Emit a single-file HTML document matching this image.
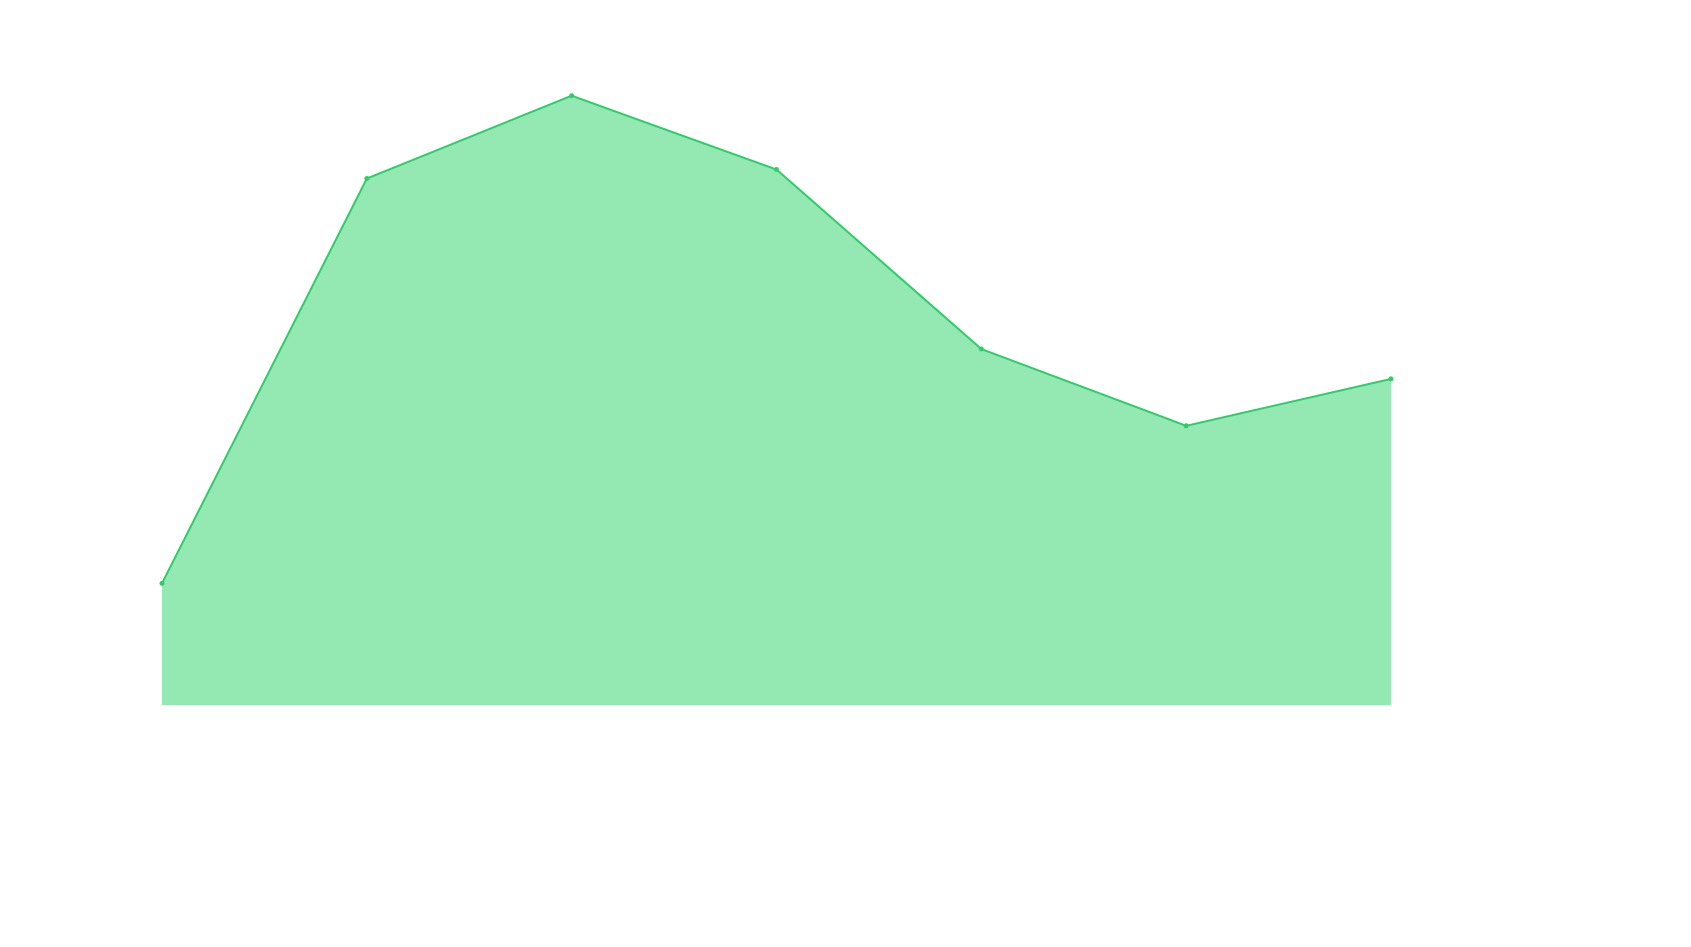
<!DOCTYPE html>
<html><head><meta charset="utf-8"><style>
html,body{margin:0;padding:0;background:#fff;width:1691px;height:947px;overflow:hidden;font-family:"Liberation Sans",sans-serif;}
</style></head><body>
<svg id="chart" width="1691" height="947" xmlns="http://www.w3.org/2000/svg"></svg>
<script>
const categories = ["1","2","3","4","5","6","7"];
const values = [122, 528, 611, 537, 357, 280, 327];
const yMax = 700;
const plotLeft = 162, plotRight = 1391, plotBottom = 705, plotTop = 7;
function xScale(i){ return plotLeft + (plotRight-plotLeft)*i/(categories.length-1); }
function yScale(v){ return plotBottom - (plotBottom-plotTop)*v/yMax; }
const svgEl = document.getElementById('chart');
const ns = 'http://www.w3.org/2000/svg';
const pts = values.map((v,i)=>[xScale(i),yScale(v)]);
const area = document.createElementNS(ns,'path');


area.setAttribute('d', 'M'+xScale(0)+','+plotBottom+' '+pts.map(p=>'L'+p[0]+','+p[1]).join(' ')+' L'+xScale(values.length-1)+','+plotBottom+' Z');
area.setAttribute('fill', '#93e9b1');
svgEl.appendChild(area);
const line = document.createElementNS(ns,'polyline');


line.setAttribute('points', pts.map(p=>p.join(',')).join(' '));
line.setAttribute('fill', 'none');
line.setAttribute('stroke', '#2ecc6a');
line.setAttribute('stroke-width', '2');
svgEl.appendChild(line);
pts.forEach((p)=>{
  const c = document.createElementNS(ns,'circle');
  
  
  c.setAttribute('cx', p[0]); c.setAttribute('cy', p[1]); c.setAttribute('r', '2.5');
  c.setAttribute('fill', '#2ecc6a');
  svgEl.appendChild(c);
});
</script>
</body></html>
